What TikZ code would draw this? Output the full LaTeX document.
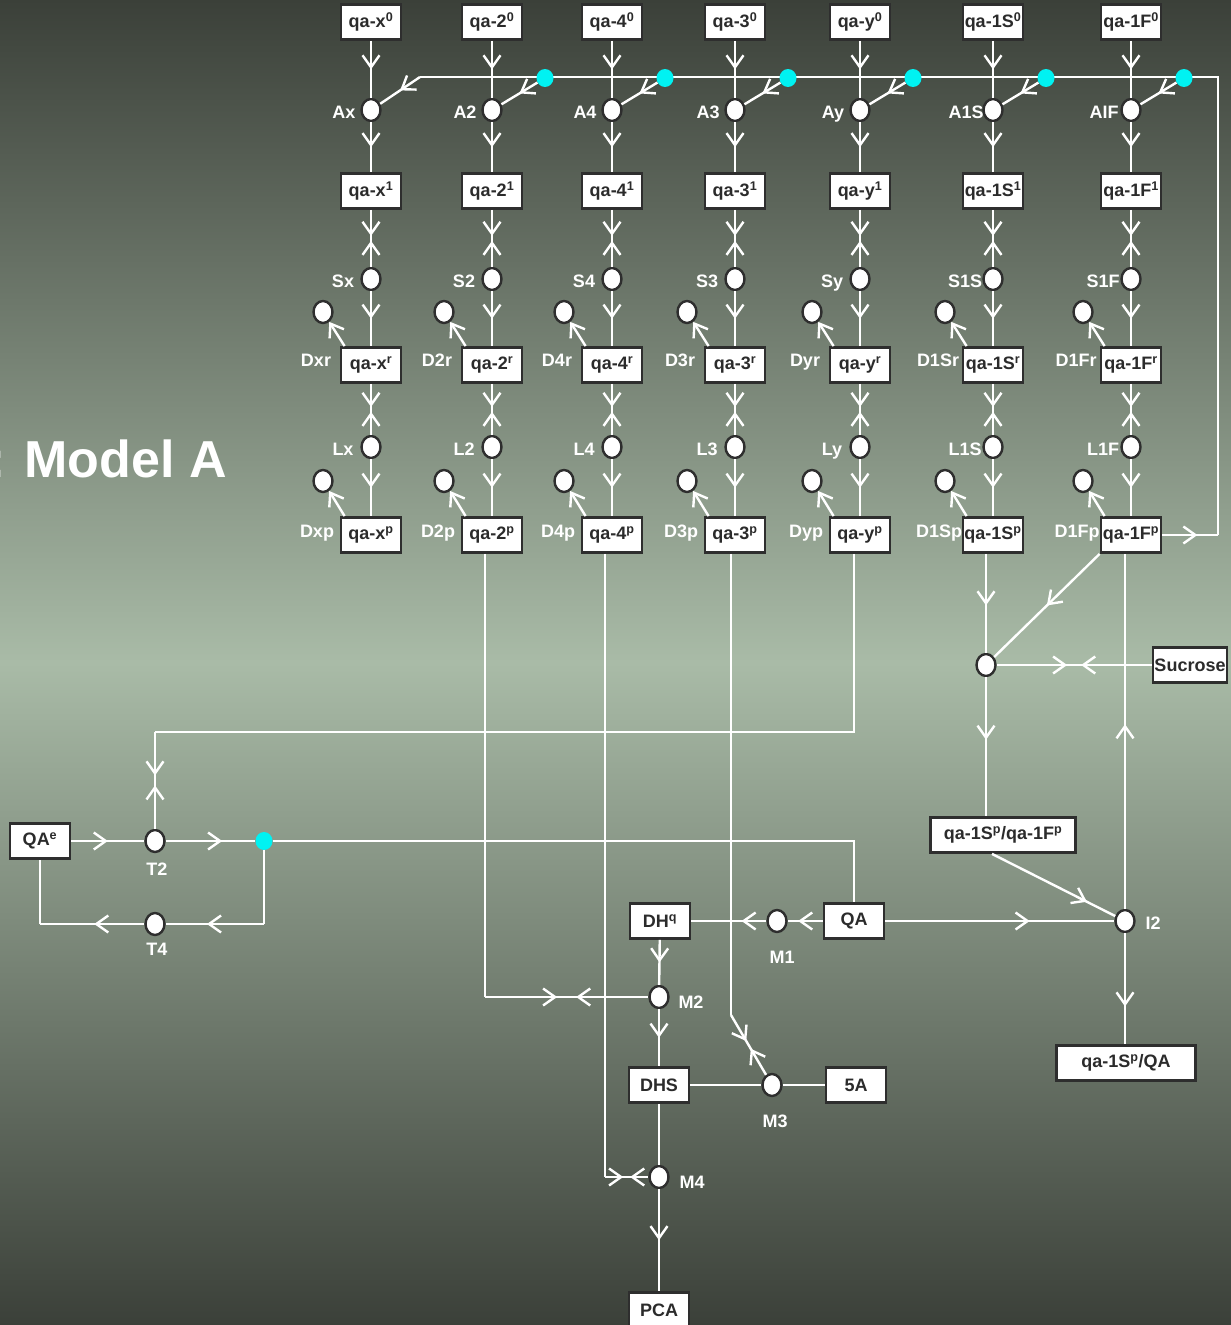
\documentclass[tikz,border=0pt]{standalone}
\usepackage{fontspec}
\setmainfont{Liberation Sans}
\usetikzlibrary{arrows.meta,decorations.markings,shapes.geometric}

\definecolor{bgdark}{HTML}{3B4039}
\definecolor{bglight}{HTML}{A9BBA7}
\definecolor{edgegray}{HTML}{2E2E2E}
\definecolor{inkgray}{HTML}{2B2B2B}
\definecolor{hubcyan}{HTML}{00F2F2}

\begin{document}
\begin{tikzpicture}[
  x=1pt,y=-1pt,
  >={Straight Barb[length=12pt,width=17pt]},
  box/.style={rectangle,draw=edgegray,line width=2.8pt,fill=white,text=inkgray,minimum width=60pt,minimum height=35pt,inner sep=1pt,font=\fontsize{18}{20}\selectfont\bfseries},
  dot/.style={ellipse,draw=edgegray,line width=2.4pt,fill=white,minimum width=19pt,minimum height=22pt,inner sep=0pt},
  hub/.style={ellipse,fill=hubcyan,minimum width=17pt,minimum height=18pt,inner sep=0pt},
  lbl/.style={anchor=base,text=white,inner sep=0pt,font=\fontsize{18}{20}\selectfont\bfseries},
  wire/.style={draw=white,line width=2.4pt},
  fw/.style={wire,postaction={decorate},decoration={markings,mark=at position #1 with {\arrow{>}}}},
  fw/.default=0.5,
  meet/.style={wire,postaction={decorate},decoration={markings,
    mark=at position 0.5 with {\pgftransformxshift{-#1}\arrow{>}},
    mark=at position 0.5 with {\pgftransformxshift{#1}\arrowreversed{>}}}},
  meet/.default=2.5pt
]
  \useasboundingbox (0,0) rectangle (1231,1325);
  \shade[top color=bgdark,bottom color=bgdark,middle color=bglight] (0,0) rectangle (1231,1325);

  \node[anchor=base east,text=white,inner sep=0pt,font=\fontsize{52}{56}\selectfont\bfseries] (title) at (227,477) {t: Model A};

  \foreach \px/\pk/\pa/\ps/\pl/\pd in {371/x/Ax/Sx/Lx/Dx,492/2/A2/S2/L2/D2,612/4/A4/S4/L4/D4,735/3/A3/S3/L3/D3,860/y/Ay/Sy/Ly/Dy,993/1S/A1S/S1S/L1S/D1S,1131/1F/AIF/S1F/L1F/D1F}{
    \node[lbl] (al-\pk) at (\px-27,118) {\pa};
    \node[lbl] (sl-\pk) at (\px-28,287) {\ps};
    \node[lbl] (ll-\pk) at (\px-28,455) {\pl};
    \node[lbl] (drl-\pk) at (\px-55,366) {\pd r};
    \node[lbl] (dpl-\pk) at (\px-54,537) {\pd p};
    \node[box] (q0-\pk) at (\px,22) {qa-\pk\textsuperscript{0}};
    \node[dot] (a-\pk) at (\px,110) {};
    \node[box] (q1-\pk) at (\px,191) {qa-\pk\textsuperscript{1}};
    \node[dot] (s-\pk) at (\px,279) {};
    \node[dot] (dr-\pk) at (\px-48,312) {};
    \node[box] (qr-\pk) at (\px,365) {qa-\pk\textsuperscript{r}};
    \node[dot] (l-\pk) at (\px,447) {};
    \node[dot] (dp-\pk) at (\px-48,481) {};
    \node[box] (qp-\pk) at (\px,535) {qa-\pk\textsuperscript{p}};
    \draw[fw] (q0-\pk) -- (a-\pk);
    \draw[fw] (a-\pk) -- (q1-\pk);
    \draw[meet] (q1-\pk) -- (s-\pk);
    \draw[fw] (s-\pk) -- (qr-\pk);
    \draw[meet] (qr-\pk) -- (l-\pk);
    \draw[fw] (l-\pk) -- (qp-\pk);
    \draw[wire,->] ([xshift=5pt]qr-\pk.north west) -- (dr-\pk);
    \draw[wire,->] ([xshift=5pt]qp-\pk.north west) -- (dp-\pk);
  }

  \coordinate (ret-se) at (1218,535);
  \coordinate (ret-ne) at (1218,77);
  \coordinate (ret-w) at (420,77);
  \draw[fw=0.63] (qp-1F.east) -- (ret-se);
  \draw[wire] (ret-se) -- (ret-ne) -- (ret-w);
  \draw[fw] (ret-w) -- (a-x);

  \node[hub] (h-2) at (545,78) {};
  \node[hub] (h-4) at (665,78) {};
  \node[hub] (h-3) at (788,78) {};
  \node[hub] (h-y) at (913,78) {};
  \node[hub] (h-1S) at (1046,78) {};
  \node[hub] (h-1F) at (1184,78) {};
  \foreach \pk in {2,4,3,y,1S,1F}
    \draw[fw] (h-\pk) -- (a-\pk);

  \node[dot] (j) at (986,665) {};
  \node[box,minimum width=74pt] (sucrose) at (1190,665) {Sucrose};
  \node[box,minimum width=145pt] (sf) at (1003,835) {qa-1S\textsuperscript{p}/qa-1F\textsuperscript{p}};
  \node[dot] (i2) at (1125,921) {};
  \node[lbl] (i2-lbl) at (1153,929) {I2};
  \node[box,minimum width=139pt] (sqa) at (1126,1063) {qa-1S\textsuperscript{p}/QA};

  \draw[fw=0.52] ([xshift=-7pt]qp-1S.south) -- (j);
  \draw[fw] (qp-1F.south west) -- (j);
  \draw[meet=7pt] (j) -- (sucrose);
  \draw[fw=0.45] (j) -- (j |- sf.north);
  \draw[fw=0.77] ([xshift=-11pt]sf.south) -- (i2);
  \draw[fw=0.52] (i2) -- (i2 |- qp-1F.south);
  \draw[fw=0.66] (i2) -- (i2 |- sqa.north);

  \node[box] (qa) at (854,921) {QA};
  \node[dot] (m1) at (777,921) {};
  \node[lbl] (m1-lbl) at (782,963) {M1};
  \node[box] (dhq) at (660,921) {DH\textsuperscript{q}};
  \node[dot] (m2) at (659,997) {};
  \node[lbl] (m2-lbl) at (691,1008) {M2};
  \node[box] (dhs) at (659,1085) {DHS};
  \node[dot] (m3) at (772,1085) {};
  \node[lbl] (m3-lbl) at (775,1127) {M3};
  \node[box] (fivea) at (856,1085) {5A};
  \node[dot] (m4) at (659,1177) {};
  \node[lbl] (m4-lbl) at (692,1188) {M4};
  \node[box] (pca) at (659,1310) {PCA};

  \draw[fw=0.63] (qa) -- (i2);
  \draw[fw=0.7] (qa) -- (m1);
  \draw[fw=0.33] (m1) -- (dhq);
  \draw[fw] (dhq) -- (m2);
  \draw[fw] (m2) -- (dhs);
  \draw[wire] (dhs) -- (m3);
  \draw[wire] (m3) -- (fivea);
  \draw[wire] (dhs) -- (m4);
  \draw[fw] (m4) -- (pca);

  \coordinate (k2) at ([xshift=-7pt]qp-2.south |- m2);
  \draw[wire] ([xshift=-7pt]qp-2.south) -- (k2);
  \draw[meet=9.5pt] (k2) -- (m2);
  \coordinate (k4) at ([xshift=-7pt]qp-4.south |- m4);
  \draw[wire] ([xshift=-7pt]qp-4.south) -- (k4);
  \draw[meet=3.5pt] (k4) -- (m4);
  \coordinate (k3) at (731,1015);
  \draw[wire] ([xshift=-4pt]qp-3.south) -- (k3);
  \draw[meet=4.5pt] (k3) -- (m3);

  \node[box] (qae) at (40,841) {QA\textsuperscript{e}};
  \node[dot] (t2) at (155,841) {};
  \node[lbl] (t2-lbl) at (157,875) {T2};
  \node[dot] (t4) at (155,924) {};
  \node[lbl] (t4-lbl) at (157,955) {T4};
  \node[hub] (h-t) at (264,841) {};

  \coordinate (ky) at (854,732);
  \coordinate (kt) at (155,732);
  \draw[wire] ([xshift=-6pt]qp-y.south) -- (ky) -- (kt);
  \draw[meet=5pt] (kt) -- (t2);

  \coordinate (kq) at (854,841);
  \coordinate (kr) at (264,924);
  \coordinate (kl) at (40,924);
  \draw[fw] (qae) -- (t2);
  \draw[fw=0.63] (t2) -- (h-t);
  \draw[wire] (h-t) -- (kq) -- (qa);
  \draw[wire] (h-t) -- (kr);
  \draw[fw=0.58] (kr) -- (t4);
  \draw[fw=0.48] (t4) -- (kl);
  \draw[wire] (kl) -- (qae);
\end{tikzpicture}
\end{document}
